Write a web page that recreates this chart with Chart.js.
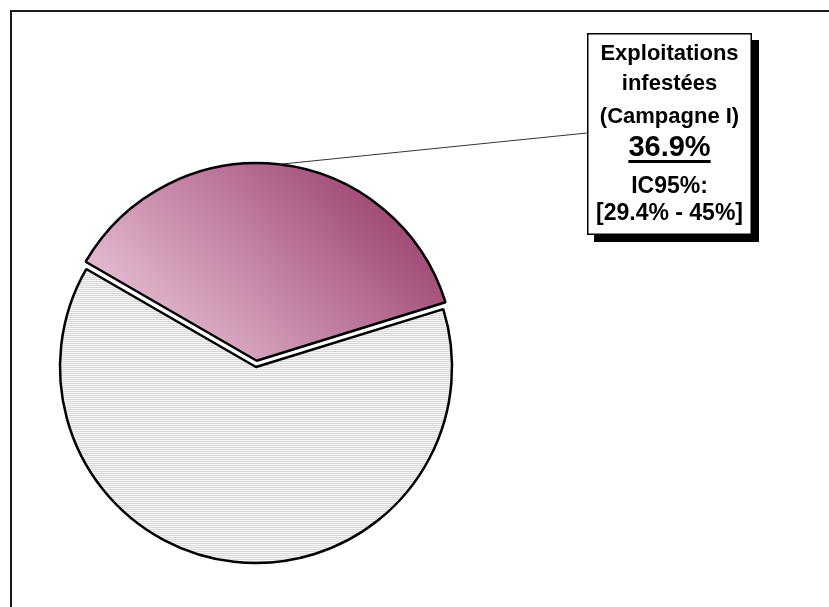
<!DOCTYPE html>
<html lang="fr">
<head>
<meta charset="utf-8">
<title>Exploitations infestées</title>
<script src="https://cdn.jsdelivr.net/npm/chart.js@4.4.1/dist/chart.umd.min.js"></script>
<style>
  html, body { margin: 0; padding: 0; background: #fff; }
  canvas { display: block; }
</style>
</head>
<body>
<canvas id="graphique" width="829" height="607"></canvas>
<script>
// Données
const categories = ['Exploitations infestées (Campagne I)', 'Exploitations non infestées'];
const valeurs = [36.9, 63.1];
const intervalle = [29.4, 45];
const titreEtiquette = ['Exploitations', 'infestées', '(Campagne I)'];

const canvas = document.getElementById('graphique');
const ctx = canvas.getContext('2d');

// Motif gris à fines lignes horizontales (part non infestée)
function motifGris() {
    const c = document.createElement('canvas');
    c.width = 4; c.height = 2;
    const g = c.getContext('2d');
    g.fillStyle = '#f7f7f7';
    g.fillRect(0, 0, 4, 2);
    g.fillStyle = '#d8d8d8';
    g.fillRect(0, 1, 4, 1);
    return ctx.createPattern(c, 'repeat');
}
const motif = motifGris();

// Dégradé rose -> prune pour la part infestée
function degradeRose(context) {
    const area = context.chart.chartArea;
    if (!area) return '#c27ea0';
    const cx = (area.left + area.right) / 2;
    const cy = (area.top + area.bottom) / 2;
    const r = 196;
    const g = context.chart.ctx.createLinearGradient(cx - 0.45 * r, cy + 0.05 * r, cx + 0.65 * r, cy - 1.0 * r);
    g.addColorStop(0, '#e6bfd3');
    g.addColorStop(1, '#9a3f6e');
    return g;
}

// Cadre, ligne de rappel et encadré de l'étiquette
const etiquette = {
    id: 'etiquette',
    beforeDraw(chart) {
        const c = chart.ctx;
        c.save();
        c.strokeStyle = '#1a1a1a';
        c.lineWidth = 2;
        c.strokeRect(11, 11, 1000, 1000);
        c.restore();
    },
    afterDraw(chart) {
        const c = chart.ctx;
        const arc = chart.getDatasetMeta(0).data[0];
        const { x, y, startAngle, endAngle, outerRadius } = arc;
        const mid = (startAngle + endAngle) / 2;
        const circ = endAngle - startAngle;
        const dep = (arc.options.offset / 4) * (2 - Math.sin(Math.min(Math.PI, circ)));
        const px = x + Math.cos(mid) * (outerRadius + dep);
        const py = y + Math.sin(mid) * (outerRadius + dep);

        const bx = 587, by = 33, bw = 165, bh = 202;

        c.save();
        // ligne de rappel
        c.strokeStyle = '#333';
        c.lineWidth = 1;
        c.beginPath();
        c.moveTo(px, py);
        c.lineTo(bx, 133);
        c.stroke();

        // ombre puis encadré
        c.fillStyle = '#000';
        c.fillRect(bx + 7, by + 7, bw, bh);
        c.fillStyle = '#fff';
        c.fillRect(bx, by, bw, bh);
        c.strokeStyle = '#000';
        c.lineWidth = 1.5;
        c.strokeRect(bx + 0.75, by + 0.75, bw - 1.5, bh - 1.5);

        // texte
        const cx = bx + bw / 2;
        c.fillStyle = '#000';
        c.textAlign = 'center';
        c.textBaseline = 'alphabetic';
        c.font = 'bold 22px "Liberation Sans", Arial, sans-serif';
        c.fillText(titreEtiquette[0], cx, 60);
        c.fillText(titreEtiquette[1], cx, 90);
        c.fillText(titreEtiquette[2], cx, 123);

        const pct = valeurs[0].toFixed(1) + '%';
        c.font = 'bold 29px "Liberation Sans", Arial, sans-serif';
        c.fillText(pct, cx, 156);
        const w = c.measureText(pct).width;
        c.fillRect(cx - w / 2, 160, w, 3);

        c.font = 'bold 23px "Liberation Sans", Arial, sans-serif';
        c.fillText('IC95%:', cx, 193);
        c.fillText('[' + intervalle[0] + '% - ' + intervalle[1] + '%]', cx, 220);
        c.restore();
    }
};

new Chart(ctx, {
    type: 'pie',
    data: {
        labels: categories,
        datasets: [{
            data: valeurs,
            radius: 196,
            backgroundColor: c => c.dataIndex === 0 ? degradeRose(c) : motif,
            borderColor: '#000',
            borderWidth: 2.5,
            offset: [25, 0]
        }]
    },
    options: {
        responsive: false,
        animation: false,
        rotation: -60,
        layout: { padding: { left: 40, right: 357, top: 160, bottom: 33 } },
        plugins: {
            legend: { display: false },
            tooltip: { enabled: false }
        }
    },
    plugins: [etiquette]
});
</script>
</body>
</html>
